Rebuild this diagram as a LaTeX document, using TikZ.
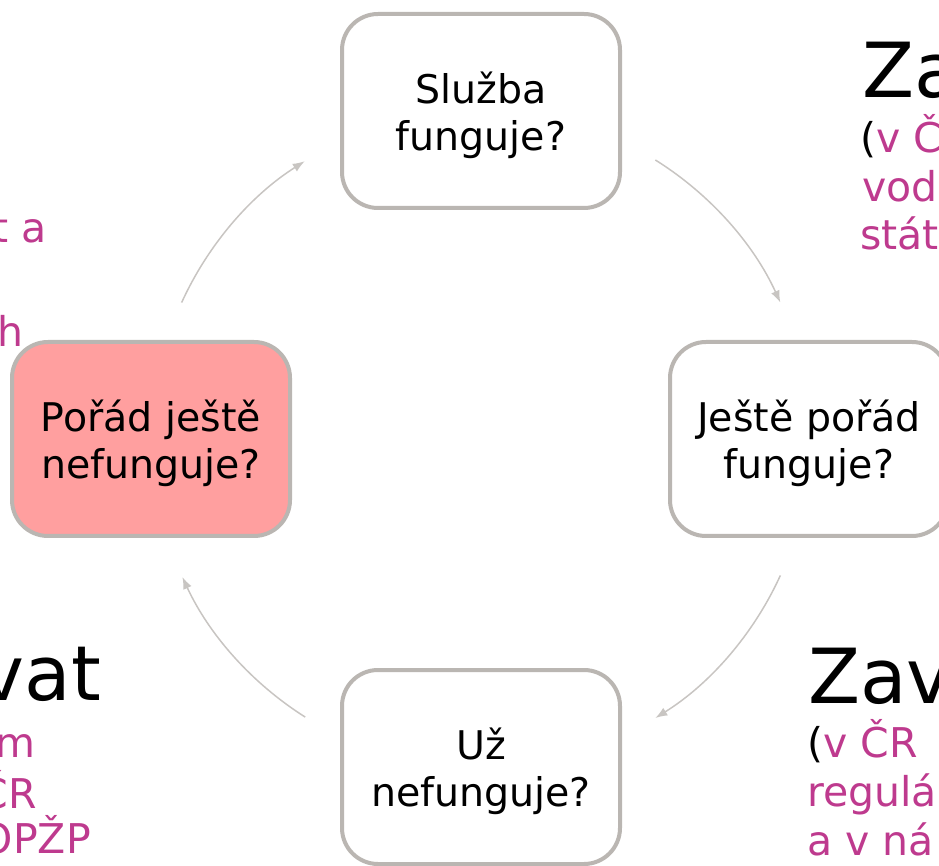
\documentclass[tikz,border=0pt]{standalone}
\usepackage{fontspec}
\setmainfont{DejaVu Sans}
\usetikzlibrary{arrows.meta}
\definecolor{boxline}{RGB}{186,182,178}
\definecolor{arrowgray}{RGB}{200,197,194}
\definecolor{pinkfill}{RGB}{255,159,159}
\definecolor{mag}{RGB}{190,58,142}
\tikzset{
  qbox/.style={draw=boxline, line width=4pt, rounded corners=36pt, fill=white,
    minimum width=278pt, minimum height=194pt, align=center, inner sep=0pt,
    text depth=0pt, font=\fontsize{39.5}{47}\selectfont},
  cyc/.style={draw=arrowgray, line width=1.5pt, -{Latex[length=12pt,width=9pt]}},
  big/.style={inner sep=0pt, font=\fontsize{76}{84}\selectfont},
  sub/.style={inner sep=0pt, text=mag, font=\fontsize{41}{48}\selectfont},
}
\begin{document}
\begin{tikzpicture}[x=1pt,y=1pt]
\useasboundingbox (0,0) rectangle (939,865);
\clip (0,0) rectangle (939,865);
% fragments of the surrounding slide text
\node[big, anchor=base west] (za) at (862,767) {Za};
\node[sub, anchor=base west] (za1) at (860,712) {\textcolor{black}{(}v Č};
\node[sub, anchor=base west] (za2) at (862,663) {vod};
\node[sub, anchor=base west] (za3) at (860,615) {stát};
\node[big, anchor=base west] (zav) at (808,162) {Zav};
\node[sub, anchor=base west] (zav1) at (807,108) {\textcolor{black}{(}v ČR};
\node[sub, anchor=base west] (zav2) at (807,59) {regulá};
\node[sub, anchor=base west] (zav3) at (807,10) {a v ná};
\node[sub, anchor=base east] (l1) at (47,622) {t a};
\node[sub, anchor=base east] (l2) at (24,518) {h};
\node[big, anchor=base east] (vat) at (101,165) {vat};
\node[sub, anchor=base east] (v1) at (36,108) {m};
\node[sub, anchor=base east] (v2) at (37,57) {ČR};
\node[sub, anchor=base east] (v3) at (91,12) {OPŽP};
% cycle boxes
\coordinate (o) at (481,426);
\node[qbox] (top) at (481,754) {Služba\\funguje?};
\node[qbox] (right) at (809,426) {Ještě pořád\\funguje?};
\node[qbox] (bottom) at (481,98) {Už\\nefunguje?};
\node[qbox, fill=pinkfill] (left) at (151,426) {Pořád ještě\\nefunguje?};
% arrows
\draw[cyc] (o) ++(58:329) arc[start angle=58, end angle=24.5, radius=329];
\draw[cyc] (o) ++(-24.5:329) arc[start angle=-24.5, end angle=-58, radius=329];
\draw[cyc] (o) ++(237.7:329) arc[start angle=237.7, end angle=204.8, radius=329];
\draw[cyc] (o) ++(155.5:329) arc[start angle=155.5, end angle=122.4, radius=329];
\end{tikzpicture}
\end{document}
